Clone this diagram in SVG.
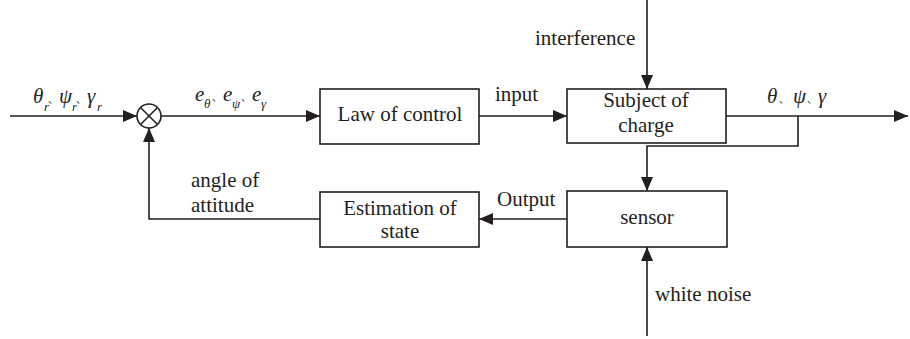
<svg xmlns="http://www.w3.org/2000/svg" width="910" height="339" viewBox="0 0 910 339">
<defs>
<style>
.t{font-family:"Liberation Serif","Times New Roman",serif;font-size:21px;fill:#231f20}
.g{font-family:"Liberation Serif","Times New Roman",serif;font-style:italic;font-size:21px;fill:#231f20}
.s{font-family:"Liberation Serif","Times New Roman",serif;font-style:italic;font-size:13px;fill:#231f20}
.c{font-family:"Noto Sans CJK SC",sans-serif;font-size:10px;fill:#231f20}
.box{fill:#fff;stroke:#231f20;stroke-width:1.6}
.ln{fill:none;stroke:#231f20;stroke-width:1.6}
</style>
<marker id="ah" markerUnits="userSpaceOnUse" markerWidth="14" markerHeight="12" refX="14" refY="6" orient="auto">
<path d="M0,0 L14,6 L0,12 z" fill="#231f20"/>
</marker>
</defs>
<rect width="910" height="339" fill="#fff"/>
<g id="connectors">
<line class="ln" x1="10" y1="116" x2="137" y2="116" marker-end="url(#ah)"/>
<line class="ln" x1="161" y1="116" x2="320" y2="116" marker-end="url(#ah)"/>
<line class="ln" x1="479" y1="116" x2="567" y2="116" marker-end="url(#ah)"/>
<line class="ln" x1="726" y1="116" x2="908" y2="116" marker-end="url(#ah)"/>
<polyline class="ln" points="798,116 798,146 647,146 647,191" marker-end="url(#ah)"/>
<line class="ln" x1="647" y1="0" x2="647" y2="89" marker-end="url(#ah)"/>
<line class="ln" x1="647" y1="336" x2="647" y2="247" marker-end="url(#ah)"/>
<line class="ln" x1="567" y1="219" x2="479" y2="219" marker-end="url(#ah)"/>
<polyline class="ln" points="320,219 149,219 149,128" marker-end="url(#ah)"/>
</g>
<g id="sum">
<circle cx="149" cy="116" r="12" fill="#fff" stroke="#231f20" stroke-width="1.6"/>
<line class="ln" x1="140.5" y1="107.5" x2="157.5" y2="124.5"/>
<line class="ln" x1="157.5" y1="107.5" x2="140.5" y2="124.5"/>
</g>
<g id="law">
<rect class="box" x="320" y="89" width="159" height="55"/>
<text class="t" x="400" y="121" text-anchor="middle">Law of control</text>
</g>
<g id="subject">
<rect class="box" x="567" y="89" width="159" height="54"/>
<text class="t" x="646" y="107" text-anchor="middle">Subject of</text>
<text class="t" x="646" y="132" text-anchor="middle">charge</text>
</g>
<g id="sensor">
<rect class="box" x="567" y="191" width="160" height="56"/>
<text class="t" x="647" y="224" text-anchor="middle">sensor</text>
</g>
<g id="estimation">
<rect class="box" x="320" y="192" width="159" height="55"/>
<text class="t" x="400" y="215" text-anchor="middle">Estimation of</text>
<text class="t" x="400" y="238" text-anchor="middle">state</text>
</g>
<g id="labels">
<text class="g" x="33" y="103">θ</text><text class="s" x="44" y="111">r</text><text class="c" x="48" y="103">、</text>
<text class="g" x="59" y="103">ψ</text><text class="s" x="72" y="111">r</text><text class="c" x="76" y="103">、</text>
<text class="g" x="87" y="103">γ</text><text class="s" x="97" y="111">r</text>
<text class="g" x="195" y="101">e</text><text class="s" x="204" y="108">θ</text><text class="c" x="212" y="101">、</text>
<text class="g" x="223" y="101">e</text><text class="s" x="232" y="108">ψ</text><text class="c" x="241" y="101">、</text>
<text class="g" x="252" y="101">e</text><text class="s" x="261" y="108">γ</text>
<text class="t" x="495" y="101">input</text>
<text class="g" x="767" y="103">θ</text><text class="c" x="779" y="103">、</text>
<text class="g" x="793" y="103">ψ</text><text class="c" x="807" y="103">、</text>
<text class="g" x="818" y="103">γ</text>
<text class="t" x="535" y="45">interference</text>
<text class="t" x="497" y="206">Output</text>
<text class="t" x="655" y="301">white noise</text>
<text class="t" x="191" y="187">angle of</text>
<text class="t" x="191" y="212">attitude</text>
</g>
</svg>
